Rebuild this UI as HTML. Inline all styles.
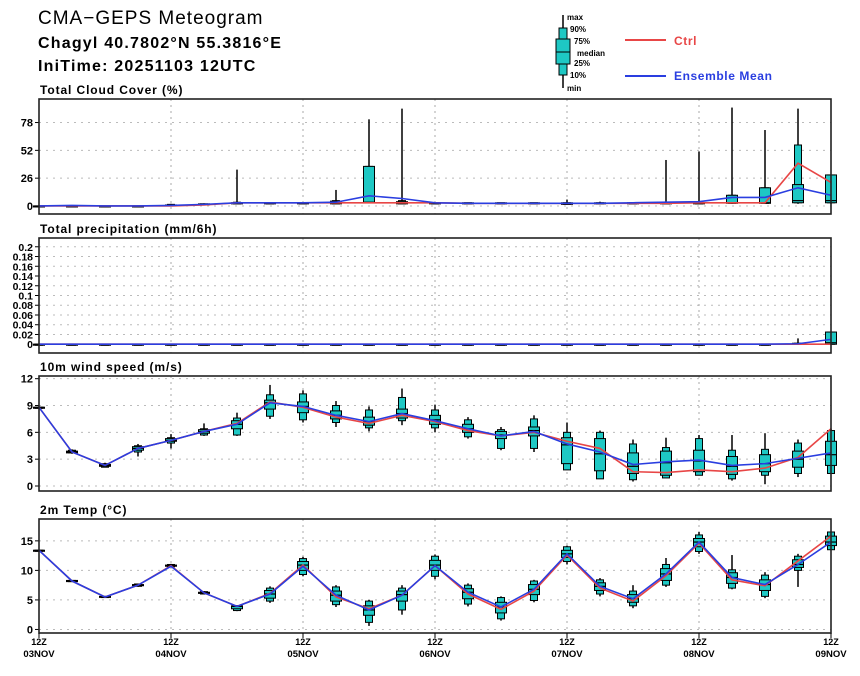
<!DOCTYPE html>
<html><head><meta charset="utf-8"><style>
body{margin:0;background:#fff}
svg text{font-family:"Liberation Sans",sans-serif}
</style></head><body>
<svg id="c" width="860" height="671" xmlns="http://www.w3.org/2000/svg">
<text x="38" y="24" font-size="19" letter-spacing="1">CMA−GEPS Meteogram</text>
<text x="38" y="48" font-size="16" font-weight="bold" letter-spacing="1.2">Chagyl 40.7802°N 55.3816°E</text>
<text x="38" y="71" font-size="16" font-weight="bold" letter-spacing="1.2">IniTime: 20251103 12UTC</text>
<g font-size="8" font-weight="bold">
<line x1="563" y1="15" x2="563" y2="88" stroke="#000" stroke-width="1.5"/>
<rect x="559" y="28" width="8" height="47" fill="#1ec8c4" stroke="#000"/>
<rect x="556" y="39" width="14" height="25" fill="#1ec8c4" stroke="#000"/>
<line x1="556" y1="52" x2="570" y2="52" stroke="#000"/>
<text x="567" y="20">max</text><text x="570" y="32">90%</text><text x="574" y="44">75%</text>
<text x="577" y="56">median</text><text x="574" y="66">25%</text><text x="570" y="78">10%</text><text x="567" y="91">min</text>
</g>
<line x1="625" y1="40" x2="666" y2="40" stroke="#e84646" stroke-width="2"/>
<text x="674" y="45" font-size="12" font-weight="bold" letter-spacing="0.6" fill="#e84646">Ctrl</text>
<line x1="625" y1="76" x2="666" y2="76" stroke="#2a3ee0" stroke-width="2"/>
<text x="674" y="80" font-size="12" font-weight="bold" letter-spacing="0.6" fill="#2a3ee0">Ensemble Mean</text>
</svg>
<script>
const xLabelsTop=["12Z","12Z","12Z","12Z","12Z","12Z","12Z"];
const xLabelsBot=["03NOV","04NOV","05NOV","06NOV","07NOV","08NOV","09NOV"];
// Cloud
const cloudMin=[0,0,0,0,0,1,2,2,2,2,3,2,2,2,2,2,2,2,2,2,2,2,2,2,2];
const cloudP10=[0,0,0,0,0,1,2,2,2,2,3,2,2,2,2,2,1.5,2,2,2,2,2.5,2.5,3,3];
const cloudP25=[0,0,0,0,0,1,2,2,2,2,3,2,2,2,2,2,1.5,2,2,2,2,2.5,2.5,3,3];
const cloudMed=[0,0,0,0,0.5,1.5,2.5,2.5,2.5,3,3.5,3,2.5,2.5,2.5,2.5,2,2.5,2.5,2.5,2.5,3,3,5,5];
const cloudP75=[0,0,0,0,1,2,3,3,3,4.5,37,4,3,3,3,3,3,3,3,3,3,10,17,20,29];
const cloudP90=[0,0,0,0,1.5,2,3.5,3,3,5,37,5,3,3,3,3,3,3,3,3,3,10,17,57,29];
const cloudMax=[0.5,0.5,0.5,0.5,2,2.5,34,3.5,3,15,81,91,3.5,3,3,3,6,4,3,43,51,92,71,91,29];
const cloudEns=[0,0.5,0,0,0.5,1.5,3,3,3,3.5,9.5,7,3,2.5,2.5,2.5,2.5,2.5,3,3.5,4,8,8,17,10];
const cloudCtrl=[0,0,0,0,0,1,3,3,3,3,3,3,3,2.5,2.5,2.5,2.5,2.5,2.5,2.5,3,3,3,40,22];
const cloudTicks=[0,26,52,78];
// Precip
const precMin=[0,0,0,0,0,0,0,0,0,0,0,0,0,0,0,0,0,0,0,0,0,0,0,0,0];
const precMed=[0,0,0,0,0,0,0,0,0,0,0,0,0,0,0,0,0,0,0,0,0,0,0,0,0.003];
const precP75=[0,0,0,0,0,0,0,0,0,0,0,0,0,0,0,0,0,0,0,0,0,0,0,0.002,0.025];
const precP90=[0,0,0,0,0,0,0,0,0,0,0,0,0,0,0,0,0,0,0,0,0,0,0,0.002,0.025];
const precMax=[0,0,0,0,0,0,0,0,0,0,0,0,0,0,0,0,0,0,0,0,0,0,0,0.012,0.025];
const precEns=[0,0,0,0,0,0,0,0,0,0,0,0,0,0,0,0,0,0,0,0,0,0,0,0.001,0.01];
const precCtrl=[0,0,0,0,0,0,0,0,0,0,0,0,0,0,0,0,0,0,0,0,0,0,0,0,0];
const precTicks=[0,0.02,0.04,0.06,0.08,0.1,0.12,0.14,0.16,0.18,0.2];
// Wind
const windMin=[8.8,3.6,2.1,3.3,4.2,5.6,5.6,7.5,7.1,6.6,6.1,6.8,6.0,5.3,4.0,3.8,1.8,0.8,0.5,0.9,1.2,0.6,0.2,1.0,1.4];
const windP10=[8.8,3.7,2.1,3.8,4.8,5.7,5.7,7.8,7.4,7.1,6.5,7.3,6.5,5.5,4.2,4.2,1.8,0.8,0.7,0.9,1.2,0.8,1.2,1.4,1.4];
const windP25=[8.8,3.7,2.2,4.0,5.0,5.9,6.4,8.6,8.2,7.5,6.8,7.6,6.9,6.0,5.3,5.6,2.5,1.7,1.4,1.2,1.6,1.3,1.6,2.1,2.3];
const windMed=[8.8,3.8,2.3,4.2,5.1,6.1,6.9,9.3,8.9,7.9,7.2,8.1,7.4,6.4,5.7,6.2,4.6,3.6,2.2,2.6,2.8,2.2,2.5,3.0,3.5];
const windP75=[8.8,3.9,2.4,4.4,5.3,6.3,7.3,9.6,9.4,8.4,7.7,8.6,7.9,6.9,6.1,6.6,5.4,5.3,3.7,3.9,4.0,3.3,3.5,3.9,5.0];
const windP90=[8.8,4.0,2.5,4.5,5.4,6.4,7.6,10.2,10.3,9.0,8.5,9.9,8.5,7.4,6.3,7.5,6.0,6.0,4.7,4.3,5.3,4.0,4.1,4.8,6.2];
const windMax=[8.8,4.1,2.6,4.7,5.8,7.0,8.2,11.3,10.7,9.5,8.9,10.9,9.1,7.7,6.6,7.9,7.1,6.2,5.2,5.4,5.7,5.7,5.9,5.2,6.4];
const windEns=[8.8,3.8,2.3,4.2,5.1,6.1,6.9,9.3,8.9,7.9,7.2,8.1,7.3,6.4,5.6,6.1,4.7,3.8,2.4,2.7,2.9,2.3,2.5,3.1,3.7];
const windCtrl=[8.8,3.8,2.3,4.2,5.1,6.1,7.0,9.4,8.8,7.7,7.0,7.9,7.2,6.2,5.6,6.0,5.0,4.2,1.6,1.5,1.8,1.6,2.0,3.2,6.4];
const windTicks=[0,3,6,9,12];
// Temp
const tempMin=[13.4,8.1,5.4,7.2,10.5,6.0,3.1,4.5,9.0,3.8,0.6,2.5,8.5,3.9,1.5,4.6,11.0,5.6,3.6,7.2,12.8,6.8,5.3,7.2,13.5];
const tempP10=[13.4,8.1,5.4,7.3,10.6,6.0,3.2,4.8,9.3,4.2,1.2,3.3,9.0,4.3,1.8,4.9,11.5,6.0,4.0,7.5,13.2,7.0,5.6,10.0,13.5];
const tempP25=[13.4,8.1,5.5,7.4,10.7,6.1,3.5,5.3,10.0,4.8,2.4,4.8,10.0,5.2,2.8,5.9,12.2,6.6,4.6,8.3,14.0,7.8,6.6,10.5,14.2];
const tempMed=[13.4,8.2,5.5,7.5,10.8,6.2,3.9,6.0,10.9,5.8,3.3,5.9,10.9,6.3,3.8,6.8,12.8,7.3,5.2,9.4,14.8,8.8,7.6,11.0,14.8];
const tempP75=[13.4,8.3,5.6,7.6,10.9,6.3,4.0,6.6,11.5,6.5,4.0,6.5,11.7,6.9,4.6,7.6,13.4,7.9,5.9,10.3,15.4,9.6,8.4,11.8,15.8];
const tempP90=[13.4,8.3,5.6,7.7,11.0,6.4,4.0,7.0,12.0,7.2,4.8,7.0,12.4,7.5,5.4,8.2,14.0,8.4,6.5,11.0,16.0,10.1,9.2,12.4,16.5];
const tempMax=[13.4,8.3,5.6,7.7,11.1,6.5,4.1,7.3,12.3,7.5,5.0,7.5,12.7,7.8,5.6,8.4,14.2,8.7,7.5,12.1,16.5,12.6,9.7,12.8,16.5];
const tempEns=[13.4,8.2,5.5,7.5,10.7,6.2,3.9,6.0,10.7,5.8,3.3,5.8,10.8,6.3,3.8,6.8,12.8,7.3,5.2,9.4,14.8,8.8,7.6,11.0,14.8];
const tempCtrl=[13.4,8.2,5.5,7.5,10.8,6.2,3.9,6.1,10.9,5.5,3.5,5.8,10.8,6.0,3.4,6.5,12.6,7.0,4.8,9.1,14.6,8.4,7.4,11.6,15.8];
const tempTicks=[0,5,10,15];

const svg=document.getElementById('c');
const NS='http://www.w3.org/2000/svg';
const X0=39,X1=831;
function xs(i){return X0+(X1-X0)*i/24;}
function mk(tag,attrs,parent){const e=document.createElementNS(NS,tag);for(const k in attrs)e.setAttribute(k,attrs[k]);(parent||svg).appendChild(e);return e;}

function panel(key,title,top,bot,ymin,ymax,ticks,tickFmt,d,fsz){
  const g=mk('g',{});
  
  
  const ys=v=>bot-(v-ymin)/(ymax-ymin)*(bot-top);
  const t=mk('text',{x:40,y:top-5,'font-size':12,'font-weight':'bold','letter-spacing':0.9},g);t.textContent=title;
  
  
  ticks.forEach(v=>{
    const y=ys(v);
    mk('line',{x1:X0,x2:X1,y1:y,y2:y,stroke:'#bbb','stroke-dasharray':'2,5'},g);
    mk('line',{x1:X0-4,x2:X0,y1:y,y2:y,stroke:'#000'},g);
    const tl=mk('text',{x:X0-6,y:y+4,'font-size':fsz,'font-weight':'bold','text-anchor':'end'},g);
    tl.textContent=tickFmt(v);
    
    
  });
  for(let k=1;k<6;k++){const x=xs(k*4);mk('line',{x1:x,x2:x,y1:top,y2:bot,stroke:'#aaa','stroke-dasharray':'2,4'},g);}
  for(let i=0;i<25;i++){
    const x=xs(i);
    const b=mk('g',{},g);
    
    
    mk('line',{x1:x,x2:x,y1:ys(d.max[i]),y2:ys(d.min[i]),stroke:'#000','stroke-width':1.5},b);
    const r1=[ys(d.p90[i]),ys(d.p10[i])];
    mk('rect',{x:x-3.5,y:r1[0],width:7,height:Math.max(r1[1]-r1[0],1),fill:'#1ec8c4',stroke:'#000'},b);
    const r2=[ys(d.p75[i]),ys(d.p25[i])];
    mk('rect',{x:x-5.5,y:r2[0],width:11,height:Math.max(r2[1]-r2[0],1),fill:'#1ec8c4',stroke:'#000'},b);
    mk('line',{x1:x-5.5,x2:x+5.5,y1:ys(d.med[i]),y2:ys(d.med[i]),stroke:'#000','stroke-width':1.2},b);
  }
  const pl=(arr,col,name)=>{const p=mk('polyline',{points:arr.map((v,i)=>xs(i)+','+ys(v)).join(' '),fill:'none',stroke:col,'stroke-width':1.6},g);
    
    };
  pl(d.ctrl,'#e84646',key+'-ctrl-line');
  pl(d.ens,'#2a3ee0',key+'-ensemble-mean-line');
  mk('rect',{x:X0,y:top,width:X1-X0,height:bot-top,fill:'none',stroke:'#222','stroke-width':1.6},g);
  return ys;
}
panel('cloud','Total Cloud Cover (%)',99,214,-7.5,100,cloudTicks,v=>v,{min:cloudMin,p10:cloudP10,p25:cloudP25,med:cloudMed,p75:cloudP75,p90:cloudP90,max:cloudMax,ens:cloudEns,ctrl:cloudCtrl},11);
panel('precip','Total precipitation (mm/6h)',238,353,-0.018,0.218,precTicks,v=>String(+v.toFixed(2)),{min:precMin,p10:precMin,p25:precMin,med:precMed,p75:precP75,p90:precP90,max:precMax,ens:precEns,ctrl:precCtrl},10.5);
panel('wind','10m wind speed (m/s)',376,491,-0.56,12.3,windTicks,v=>v,{min:windMin,p10:windP10,p25:windP25,med:windMed,p75:windP75,p90:windP90,max:windMax,ens:windEns,ctrl:windCtrl},11);
panel('temp','2m Temp (°C)',519,633,-0.6,18.7,tempTicks,v=>v,{min:tempMin,p10:tempP10,p25:tempP25,med:tempMed,p75:tempP75,p90:tempP90,max:tempMax,ens:tempEns,ctrl:tempCtrl},11);
xLabelsTop.forEach((s,k)=>{
  const x=xs(k*4);
  mk('line',{x1:x,x2:x,y1:633,y2:638,stroke:'#000'});
  const a=mk('text',{x:x,y:645,'font-size':9,'font-weight':'bold','text-anchor':'middle'});a.textContent=s;
  
  
  const b=mk('text',{x:x,y:657,'font-size':9.5,'font-weight':'bold','text-anchor':'middle'});b.textContent=xLabelsBot[k];
  
  
});
</script>
</body></html>
